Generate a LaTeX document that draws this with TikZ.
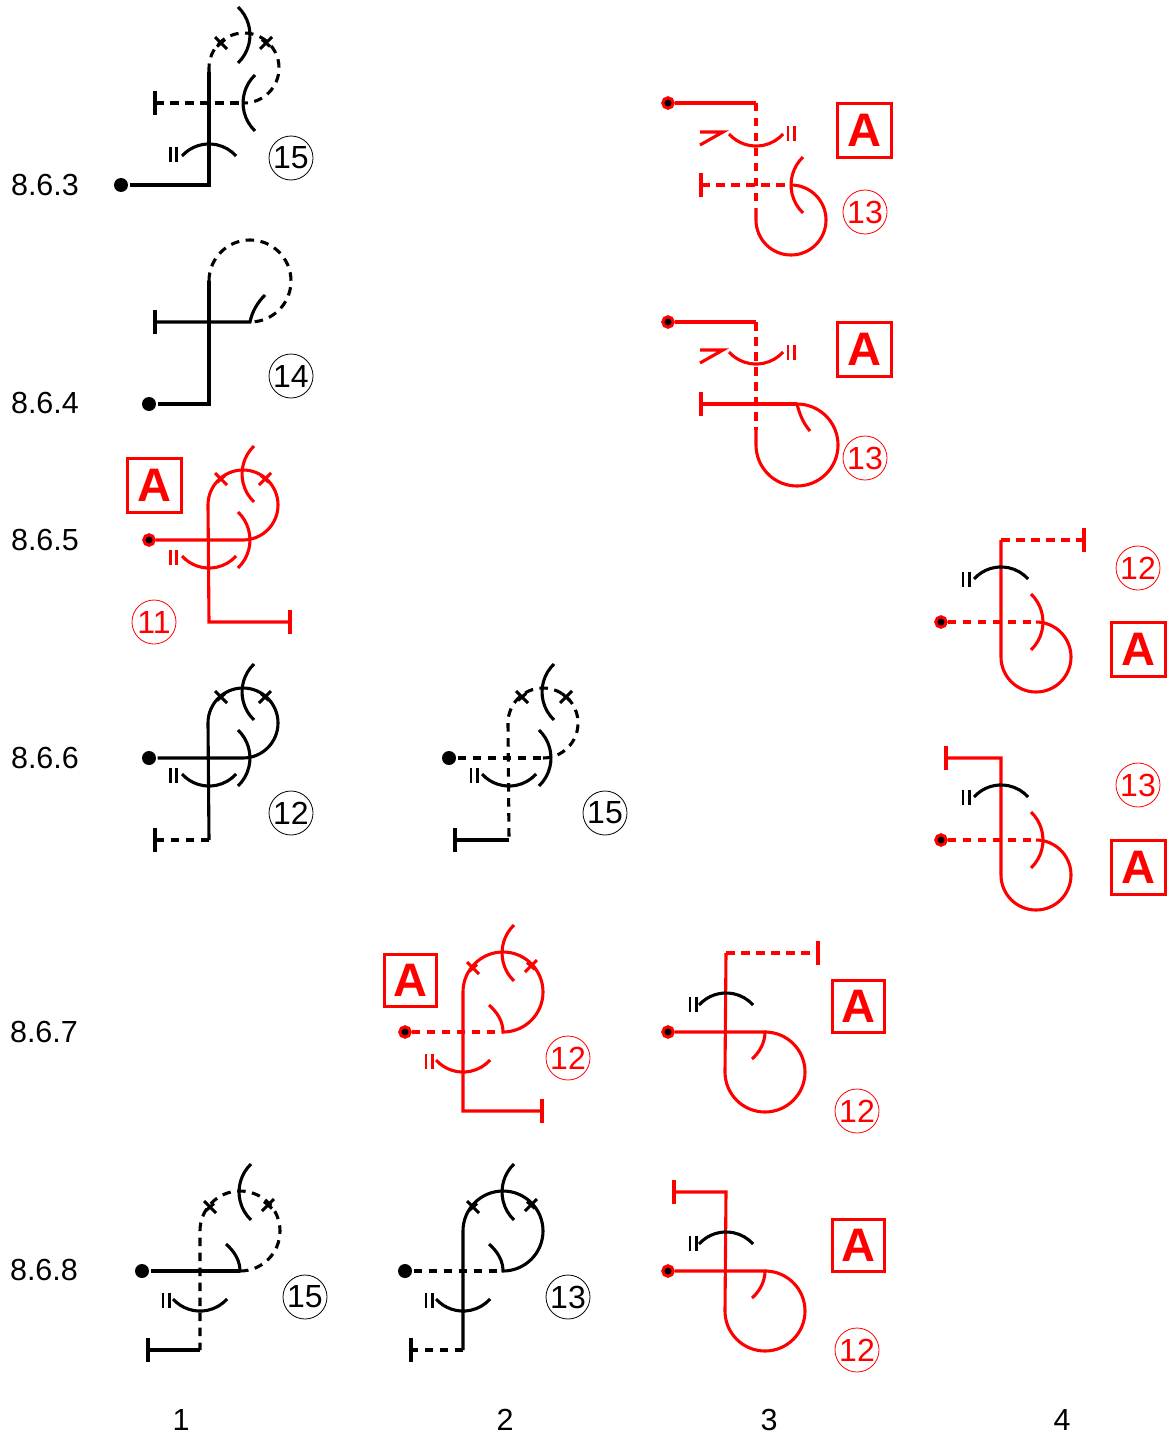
\documentclass[tikz,border=0pt]{standalone}
\usepackage{fontspec}
\setmainfont{Liberation Sans}
\tikzset{
	startdot/.style={circle,fill=black,inner sep=0pt,minimum size=14pt},
	startred/.style={circle,fill=black,draw=red,line width=3pt,inner sep=0pt,minimum size=10.5pt},
	rowtext/.style={inner sep=0pt,font=\fontsize{30.5}{32}\selectfont},
	numlabel/.style={circle,draw,line width=0.8pt,inner sep=0pt,minimum size=44pt,font=\fontsize{32}{34}\selectfont},
	boxlabel/.style={draw=red,text=red,line width=3pt,inner sep=0pt,minimum size=54pt,font=\bfseries\fontsize{47}{48}\selectfont},
	dashline/.style={dash pattern=on 8.5pt off 6.5pt},
	capup/.pic={\draw (-27,12) arc[start angle=222,end angle=318,radius=36.4];},
	capdown/.pic={\draw (-27,-12) arc[start angle=138,end angle=42,radius=36.4];},
	capright/.pic={\draw (-12,-28) arc[start angle=-46.3,end angle=46.3,radius=38.7];},
	capleft/.pic={\draw (12,-28) arc[start angle=226.3,end angle=133.7,radius=38.7];},
	twobars/.pic={\draw[line width=2.6pt] (-3.2,-7.5) -- (-3.2,7.5) (3.2,-7.5) -- (3.2,7.5);},
	endbar/.pic={\draw (0,-12) -- (0,12);},
	markleft/.pic={\draw (-6,-6) -- (6,6) (-4,3.5) -- (4,-3.5);},
	markright/.pic={\draw (-6,6) -- (6,-6) (-4,-3.5) -- (4,3.5);},
	hookmark/.pic={\draw (0,0) -- (23,0) -- (0,13);},
}
\begin{document}
\begin{tikzpicture}[x=1pt,y=-1pt,line width=3.1pt]
	\useasboundingbox (0,0) rectangle (1168,1434);
	% row and column texts
	\node[rowtext,anchor=west] (r63) at (9.5,185) {8.6.3};
	\node[rowtext,anchor=west] (r64) at (9.5,403) {8.6.4};
	\node[rowtext,anchor=west] (r65) at (9.5,540) {8.6.5};
	\node[rowtext,anchor=west] (r66) at (9.5,758) {8.6.6};
	\node[rowtext,anchor=west] (r67) at (8.5,1032) {8.6.7};
	\node[rowtext,anchor=west] (r68) at (8.5,1270) {8.6.8};
	\node[rowtext] (c1) at (181,1420) {1};
	\node[rowtext] (c2) at (505,1420) {2};
	\node[rowtext] (c3) at (769,1420) {3};
	\node[rowtext] (c4) at (1062,1420) {4};
	% 8.6.3 column 1
	\node[startdot] (d63a) at (121,185) {};
	\draw (d63a) -- (209,185) -- (209,72);
	\draw[dashline] (209,72) -- (209,68) arc[start angle=180,end angle=450,radius=35];
	\draw[dashline] (155,103) -- (244,103);
	\pic at (155,103) {endbar};
	\pic at (250,35) {capright};
	\pic at (243,103) {capleft};
	\pic at (221,43) {markleft};
	\pic at (266,43) {markright};
	\pic at (209,144) {capup};
	\pic at (173.5,155) {twobars};
	\node[numlabel] (l63a) at (291,158) {15};
	% 8.6.4 column 1
	\node[startdot] (d64a) at (149,404) {};
	\draw (d64a) -- (209,404) -- (209,281);
	\draw[dashline] (209,281) arc[start angle=180,end angle=450,radius=41];
	\draw (155,322) -- (250,322) .. controls (252,312) and (257,303) .. (265,295);
	\pic at (155,322) {endbar};
	\node[numlabel] (l64a) at (291,376) {14};
	% 8.6.5 column 1
	\begin{scope}[red]
		\node[boxlabel] (a65a) at (154,485.5) {A};
		\node[startred] (d65a) at (149,540) {};
		\draw (d65a) -- (243,540) arc[start angle=90,end angle=-180,radius=35] -- (209,622) -- (290,622);
		\pic at (290,622) {endbar};
		\pic at (242,474) {capleft};
		\pic at (250,540) {capright};
		\pic at (221,479) {markleft};
		\pic at (265,479) {markright};
		\pic at (209,568) {capdown};
		\pic at (173.5,557) {twobars};
		\node[numlabel] (l65a) at (154,622) {11};
	\end{scope}
	% 8.6.6 column 1
	\node[startdot] (d66a) at (149,758) {};
	\draw (d66a) -- (243,758) arc[start angle=90,end angle=-180,radius=35] -- (209,840);
	\draw[dashline] (209,840) -- (155,840);
	\pic at (155,840) {endbar};
	\pic at (242,692) {capleft};
	\pic at (250,758) {capright};
	\pic at (221,697) {markleft};
	\pic at (265,697) {markright};
	\pic at (209,786) {capdown};
	\pic at (173.5,775) {twobars};
	\node[numlabel] (l66a) at (291,813) {12};
	% 8.6.6 column 2
	\node[startdot] (d66b) at (449,758) {};
	\draw[dashline] (d66b) -- (543,758);
	\draw[dashline] (543,758) arc[start angle=90,end angle=-180,radius=35] -- (509,840);
	\draw (509,840) -- (455,840);
	\pic at (455,840) {endbar};
	\pic at (542,692) {capleft};
	\pic at (551,758) {capright};
	\pic at (522,697) {markleft};
	\pic at (566,697) {markright};
	\pic at (509,786) {capdown};
	\pic at (474,775) {twobars};
	\node[numlabel] (l66b) at (605,813) {15};
	% 8.6.7 column 2
	\begin{scope}[red]
		\node[boxlabel,minimum size=52pt] (a67b) at (410,980) {A};
		\node[startred] (d67b) at (405,1032) {};
		\draw[dashline] (d67b) -- (503,1032);
		\draw (489,1005) .. controls (498,1013) and (503,1022) .. (503,1032) arc[start angle=90,end angle=-180,radius=40] -- (463,1111) -- (542,1111);
		\pic at (542,1111) {endbar};
		\pic at (502,953) {capleft};
		\pic at (473,968) {markleft};
		\pic at (531,966) {markright};
		\pic at (463,1072) {capdown};
		\pic at (429,1061) {twobars};
		\node[numlabel] (l67b) at (568,1058) {12};
	\end{scope}
	% 8.6.8 column 1
	\node[startdot] (d68a) at (142,1271) {};
	\draw (d68a) -- (240,1271);
	\draw (226,1244) .. controls (235,1252) and (240,1261) .. (240,1271);
	\draw[dashline] (240,1271) arc[start angle=90,end angle=-180,radius=40] -- (200,1350);
	\draw (200,1350) -- (148,1350);
	\pic at (148,1350) {endbar};
	\pic at (239,1192) {capleft};
	\pic at (210,1207) {markleft};
	\pic at (268,1205) {markright};
	\pic at (200,1311) {capdown};
	\pic at (166,1300) {twobars};
	\node[numlabel] (l68a) at (305,1297) {15};
	% 8.6.8 column 2
	\node[startdot] (d68b) at (405,1271) {};
	\draw[dashline] (d68b) -- (503,1271);
	\draw (489,1244) .. controls (498,1252) and (503,1261) .. (503,1271) arc[start angle=90,end angle=-180,radius=40] -- (463,1350);
	\draw[dashline] (463,1350) -- (411,1350);
	\pic at (411,1350) {endbar};
	\pic at (502,1192) {capleft};
	\pic at (473,1207) {markleft};
	\pic at (531,1205) {markright};
	\pic at (463,1311) {capdown};
	\pic at (429,1300) {twobars};
	\node[numlabel] (l68b) at (568,1297) {13};
	% 8.6.3 column 3
	\begin{scope}[red]
		\node[boxlabel] (a63c) at (864.5,130.5) {A};
		\node[startred] (d63c) at (668,103) {};
		\draw (d63c) -- (756,103);
		\draw[dashline] (756,103) -- (756,208);
		\draw (756,208) -- (756,220) arc[start angle=180,end angle=-90,radius=35];
		\draw[dashline] (701,185) -- (790,185);
		\pic at (701,185) {endbar};
		\pic at (791,185) {capleft};
		\pic at (756,146) {capdown};
		\pic at (791,134) {twobars};
		\pic at (700,132) {hookmark};
		\node[numlabel] (l63c) at (865,212) {13};
	\end{scope}
	% 8.6.4 column 3
	\begin{scope}[red]
		\node[boxlabel] (a64c) at (864.5,349.5) {A};
		\node[startred] (d64c) at (668,322) {};
		\draw (d64c) -- (756,322);
		\draw[dashline] (756,322) -- (756,430);
		\draw (756,430) -- (756,445) arc[start angle=180,end angle=-90,radius=41] .. controls (800,416) and (804,424) .. (810,431);
		\draw (701,404) -- (797,404);
		\pic at (701,404) {endbar};
		\pic at (756,364) {capdown};
		\pic at (791,352) {twobars};
		\pic at (700,350) {hookmark};
		\node[numlabel] (l64c) at (865,458) {13};
	\end{scope}
	% 8.6.7 column 3
	\begin{scope}[red]
		\node[boxlabel,minimum size=52pt] (a67c) at (858,1006) {A};
		\node[startred] (d67c) at (668,1032) {};
		\draw (d67c) -- (765,1032) .. controls (765,1042) and (760,1052) .. (752,1059);
		\draw (765,1032) arc[start angle=-90,end angle=180,radius=40] -- (726,953);
		\draw[dashline] (726,953) -- (818,953);
		\pic at (818,953) {endbar};
		\node[numlabel] (l67c) at (857,1111) {12};
	\end{scope}
	\pic at (726,993) {capup};
	\pic at (693,1004) {twobars};
	% 8.6.8 column 3
	\begin{scope}[red]
		\node[boxlabel,minimum size=52pt] (a68c) at (858,1245) {A};
		\node[startred] (d68c) at (668,1271) {};
		\draw (d68c) -- (765,1271) .. controls (765,1281) and (760,1291) .. (752,1298);
		\draw (765,1271) arc[start angle=-90,end angle=180,radius=40] -- (726,1192) -- (674,1192);
		\pic at (674,1192) {endbar};
		\node[numlabel] (l68c) at (857,1350) {12};
	\end{scope}
	\pic at (726,1232) {capup};
	\pic at (693,1243) {twobars};
	% 8.6.5 column 4
	\begin{scope}[red]
		\node[boxlabel] (a65d) at (1138,649.5) {A};
		\node[startred] (d65d) at (941,622) {};
		\draw[dashline] (d65d) -- (1036,622);
		\draw (1036,622) arc[start angle=-90,end angle=180,radius=35] -- (1001,540);
		\draw[dashline] (1001,540) -- (1084,540);
		\pic at (1084,540) {endbar};
		\pic at (1043,622) {capright};
		\node[numlabel] (l65d) at (1138,568) {12};
	\end{scope}
	\pic at (1001,567) {capup};
	\pic at (966,579) {twobars};
	% 8.6.6 column 4
	\begin{scope}[red]
		\node[boxlabel] (a66d) at (1138,867.5) {A};
		\node[startred] (d66d) at (941,840) {};
		\draw[dashline] (d66d) -- (1036,840);
		\draw (1036,840) arc[start angle=-90,end angle=180,radius=35] -- (1001,758) -- (946,758);
		\pic at (946,758) {endbar};
		\pic at (1043,840) {capright};
		\node[numlabel] (l66d) at (1138,785) {13};
	\end{scope}
	\pic at (1001,785) {capup};
	\pic at (966,797) {twobars};
\end{tikzpicture}
\end{document}
